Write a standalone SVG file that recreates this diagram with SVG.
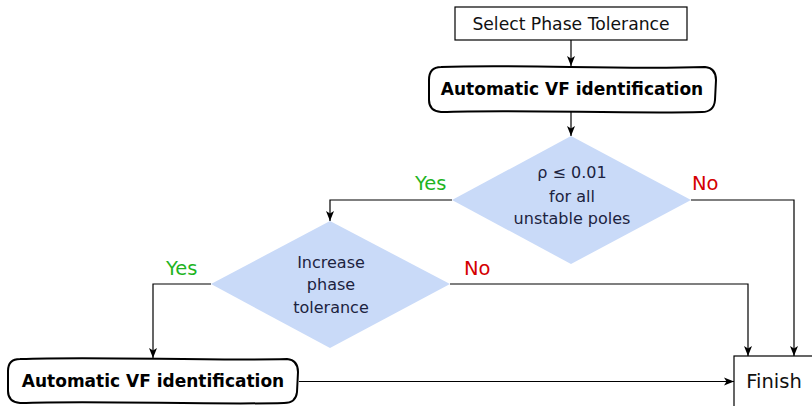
<svg xmlns="http://www.w3.org/2000/svg" width="812" height="406" viewBox="0 0 812 406">
<defs>
<marker id="arr" viewBox="0 0 10 10" refX="10" refY="5" markerWidth="10" markerHeight="10" markerUnits="userSpaceOnUse" orient="auto">
<path d="M0,1 L10,5 L0,9 L2.5,5 Z" fill="#000"/>
</marker>
<style>
.t{font-family:"DejaVu Sans",sans-serif;font-size:17.2px;text-anchor:middle;fill:#111}
.b{font-family:"DejaVu Sans",sans-serif;font-size:17px;font-weight:bold;text-anchor:middle;fill:#000}
.d{font-family:"DejaVu Sans",sans-serif;font-size:16px;text-anchor:middle;fill:#1c2340}
.y{font-family:"DejaVu Sans",sans-serif;font-size:19.5px;fill:#1fb41f}
.n{font-family:"DejaVu Sans",sans-serif;font-size:19.5px;fill:#d40000}
.box{fill:#fff;stroke:#000;stroke-width:1.2}
.proc{fill:#fff;stroke:#000;stroke-width:2}
.dia{fill:#c9daf8;stroke:none}
.c{fill:none;stroke:#000;stroke-width:1.2;marker-end:url(#arr)}
</style>
</defs>
<g id="connectors">
<path class="c" d="M571,40 V66"/>
<path class="c" d="M571,112 V136"/>
<path class="c" d="M452,200 H330 V221"/>
<path class="c" d="M691,200 H794 V356"/>
<path class="c" d="M211,284 H153 V358"/>
<path class="c" d="M450,284 H748 V356"/>
<path class="c" d="M299,381.5 H734"/>
</g>
<g id="select">
<rect class="box" x="455" y="7" width="232" height="33"/>
<text class="t" x="571" y="29.8">Select Phase Tolerance</text>
</g>
<g id="vf1">
<path class="proc" d="M441,67 C520,64 620,70 705,67 Q716,68 716,80 L715,100 Q714,112 702,112 C620,114 520,109 441,112 Q429,111 429,100 L429,80 Q429,67 441,67 Z"/>
<text class="b" x="572" y="95">Automatic VF identification</text>
</g>
<g id="check">
<polygon class="dia" points="571,136 691,200 571,264 452,200"/>
<text class="d" x="572" y="178">ρ ≤ 0.01</text>
<text class="d" x="572" y="202">for all</text>
<text class="d" x="572" y="224">unstable poles</text>
</g>
<g id="increase">
<polygon class="dia" points="330,221 450,284 330,348 211,284"/>
<text class="d" x="331" y="268">Increase</text>
<text class="d" x="331" y="290">phase</text>
<text class="d" x="331" y="313">tolerance</text>
</g>
<g id="vf2">
<path class="proc" d="M20,359 C100,356 200,361 287,359 Q298,360 298,372 L297,392 Q296,403 284,403 C200,405 100,400 20,403 Q8,402 8,391 L8,371 Q8,359 20,359 Z"/>
<text class="b" x="153" y="387">Automatic VF identification</text>
</g>
<g id="finish">
<rect class="box" x="734" y="356" width="90" height="60"/>
<text class="t" x="774" y="388" style="font-size:19.5px">Finish</text>
</g>
<g id="labels">
<text class="y" x="415" y="190">Yes</text>
<text class="n" x="692" y="190">No</text>
<text class="y" x="166" y="275">Yes</text>
<text class="n" x="464" y="275">No</text>
</g>
</svg>
